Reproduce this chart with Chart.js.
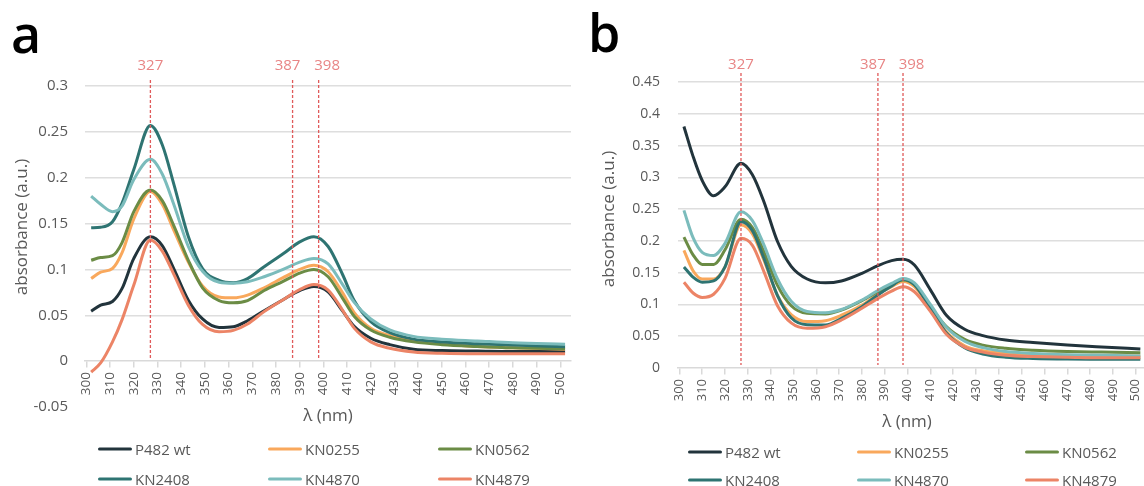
<!DOCTYPE html>
<html>
<head>
<meta charset="utf-8">
<script src="https://cdn.jsdelivr.net/npm/chart.js@4.4.0/dist/chart.umd.min.js"></script>
<style>
body{margin:0;background:#fff;width:1144px;height:486px;overflow:hidden;position:relative;font-family:"Open Sans",sans-serif;color:#595959}
canvas{position:absolute;top:0}
#cA{left:0}
#cB{left:575px}
.t{position:absolute;white-space:nowrap;line-height:1}
.panel{position:absolute;font-size:52px;font-weight:600;color:#000;line-height:52px}
.ytitle{font-size:17px;transform:translate(-50%,-50%) rotate(-90deg)}
.xtitle{font-size:17px;transform:translate(-50%,-50%)}
.leg{position:absolute;font-size:15px;line-height:1;transform:translateY(-50%);white-space:nowrap}
.leg i{position:absolute;height:3.5px;border-radius:2px}
</style>
</head>
<body>
<canvas id="cA" width="575" height="486"></canvas>
<canvas id="cB" width="569" height="486"></canvas>
<div class="panel" style="left:11px;top:7px">a</div>
<div class="panel" style="left:588px;top:6px">b</div>
<div class="t ytitle" style="left:20px;top:227px">absorbance (a.u.)</div>
<div class="t ytitle" style="left:607px;top:219px">absorbance (a.u.)</div>
<div class="t xtitle" style="left:328px;top:414px">λ (nm)</div>
<div class="t xtitle" style="left:907px;top:420px">λ (nm)</div>
<div id="legends"></div>
<script>
// Series names and colours
const names = ['P482 wt', 'KN0255', 'KN0562', 'KN2408', 'KN4870', 'KN4879'];
const colors = ['#22343c', '#f9a85c', '#6b8c45', '#2e7472', '#7bbcbc', '#ec8466'];
const markers = [327, 387, 398];
const xTicks = [300, 310, 320, 330, 340, 350, 360, 370, 380, 390, 400, 410, 420, 430, 440, 450, 460, 470, 480, 490, 500];

// panel a
const wlA = [302, 306, 311, 315, 320, 327, 332, 337, 343, 349, 356, 362, 368, 375, 383, 390, 396, 402, 408, 413, 420, 428, 438, 450, 465, 480, 502];
const aP482 = [0.0545, 0.061, 0.065, 0.079, 0.112, 0.1356, 0.126, 0.100, 0.0665, 0.046, 0.0367, 0.0375, 0.044, 0.055, 0.067, 0.077, 0.0815, 0.0756, 0.055, 0.038, 0.025, 0.018, 0.013, 0.0115, 0.011, 0.0105, 0.0105];
const aKN0255 = [0.090, 0.097, 0.101, 0.118, 0.155, 0.185, 0.171, 0.142, 0.108, 0.082, 0.070, 0.069, 0.072, 0.080, 0.091, 0.100, 0.1045, 0.0975, 0.075, 0.053, 0.036, 0.028, 0.023, 0.019, 0.016, 0.0145, 0.013];
const aKN0562 = [0.110, 0.113, 0.115, 0.129, 0.163, 0.1865, 0.175, 0.147, 0.110, 0.080, 0.066, 0.0636, 0.066, 0.077, 0.087, 0.096, 0.100, 0.092, 0.069, 0.049, 0.034, 0.026, 0.021, 0.018, 0.016, 0.0145, 0.0135];
const aKN2408 = [0.1455, 0.146, 0.152, 0.172, 0.209, 0.257, 0.236, 0.192, 0.136, 0.101, 0.088, 0.0855, 0.090, 0.103, 0.117, 0.130, 0.1356, 0.125, 0.095, 0.066, 0.043, 0.031, 0.024, 0.021, 0.019, 0.0175, 0.0158];
const aKN4870 = [0.180, 0.171, 0.163, 0.169, 0.198, 0.220, 0.204, 0.170, 0.125, 0.098, 0.086, 0.085, 0.0865, 0.092, 0.100, 0.108, 0.112, 0.106, 0.084, 0.064, 0.046, 0.034, 0.027, 0.024, 0.022, 0.020, 0.0185];
const aKN4879 = [-0.012, -0.002, 0.021, 0.045, 0.083, 0.132, 0.120, 0.094, 0.061, 0.040, 0.032, 0.0335, 0.0405, 0.054, 0.067, 0.078, 0.0835, 0.0775, 0.056, 0.036, 0.021, 0.014, 0.010, 0.0085, 0.008, 0.008, 0.008];

// panel b
const wlB = [302, 306, 310, 315, 320, 327, 332, 337, 343, 349, 356, 364, 371, 380, 387, 393, 398, 403, 410, 417, 425, 433, 443, 455, 470, 485, 502];
const bP482 = [0.380, 0.333, 0.295, 0.271, 0.285, 0.322, 0.304, 0.262, 0.199, 0.160, 0.140, 0.134, 0.137, 0.149, 0.161, 0.169, 0.171, 0.162, 0.123, 0.083, 0.061, 0.051, 0.044, 0.040, 0.036, 0.033, 0.030];
const bKN0255 = [0.185, 0.153, 0.140, 0.140, 0.159, 0.225, 0.211, 0.170, 0.114, 0.084, 0.073, 0.0745, 0.083, 0.099, 0.116, 0.128, 0.136, 0.128, 0.094, 0.057, 0.035, 0.027, 0.023, 0.021, 0.020, 0.019, 0.019];
const bKN0562 = [0.206, 0.178, 0.163, 0.163, 0.186, 0.234, 0.221, 0.183, 0.130, 0.098, 0.086, 0.085, 0.091, 0.106, 0.120, 0.131, 0.1385, 0.131, 0.097, 0.065, 0.045, 0.036, 0.031, 0.028, 0.026, 0.025, 0.024];
const bKN2408 = [0.159, 0.143, 0.135, 0.137, 0.159, 0.230, 0.216, 0.173, 0.114, 0.079, 0.068, 0.0677, 0.078, 0.0965, 0.115, 0.129, 0.1395, 0.131, 0.094, 0.055, 0.032, 0.022, 0.017, 0.015, 0.014, 0.0138, 0.0136];
const bKN4870 = [0.248, 0.205, 0.182, 0.177, 0.196, 0.246, 0.232, 0.194, 0.140, 0.105, 0.089, 0.087, 0.092, 0.107, 0.122, 0.133, 0.141, 0.134, 0.100, 0.064, 0.042, 0.032, 0.026, 0.023, 0.021, 0.020, 0.019];
const bKN4879 = [0.135, 0.118, 0.111, 0.116, 0.141, 0.204, 0.193, 0.152, 0.098, 0.071, 0.0625, 0.065, 0.0755, 0.094, 0.1095, 0.121, 0.128, 0.120, 0.089, 0.053, 0.033, 0.025, 0.020, 0.018, 0.017, 0.016, 0.016];

const seriesA = [aP482, aKN0255, aKN0562, aKN2408, aKN4870, aKN4879];
const seriesB = [bP482, bKN0255, bKN0562, bKN2408, bKN4870, bKN4879];

// dashed marker lines with labels above the plot
const markerPlugin = {
  id: 'markers',
  afterDatasetsDraw(chart, args, opts) {
    const {ctx, chartArea} = chart;
    const x = chart.scales.x, y = chart.scales.y;
    ctx.save();
    markers.forEach((m, i) => {
      const px = x.getPixelForValue(m);
      ctx.strokeStyle = '#e05a5a';
      ctx.lineWidth = 1.3;
      ctx.setLineDash([3, 2]);
      ctx.beginPath();
      ctx.moveTo(px, chartArea.top - opts.above);
      ctx.lineTo(px, y.getPixelForValue(0) - 3);
      ctx.stroke();
      ctx.fillStyle = '#e88585';
      ctx.font = '15px "Open Sans"';
      ctx.textAlign = 'center';
      ctx.textBaseline = 'middle';
      ctx.fillText(String(m), px + opts.shift[i], opts.labelY);
    });
    ctx.restore();
  }
};

function fmt(v) { return String(Math.round(v * 100) / 100); }

function makeChart(id, wl, series, o) {
  const datasets = series.map((vals, i) => ({
    label: names[i],
    data: vals.map((v, j) => ({x: wl[j], y: v})),
    borderColor: colors[i],
    borderWidth: 3,
    pointRadius: 0,
    cubicInterpolationMode: 'monotone',
    order: 6 - i
  }));
  return new Chart(document.getElementById(id), {
    type: 'line',
    data: {datasets},
    plugins: [markerPlugin],
    options: {
      responsive: false,
      animation: false,
      layout: {padding: o.padding},
      plugins: {
        legend: {display: false},
        tooltip: {enabled: false},
        markers: {above: o.above, labelY: o.labelY, shift: [0, -5, 8.5]}
      },
      scales: {
        x: {
          type: 'linear',
          position: {y: 0},
          min: o.xmin, max: o.xmax,
          afterBuildTicks: s => { s.ticks = xTicks.map(v => ({value: v})); },
          afterFit: s => { s.paddingLeft = 0; s.paddingRight = 0; },
          ticks: {minRotation: 90, maxRotation: 90, autoSkip: false, padding: 5, color: '#595959', font: {family: 'Open Sans', size: o.xfont}},
          grid: {drawOnChartArea: false, drawTicks: true, tickLength: 6, color: '#d9d9d9', lineWidth: 1.5},
          border: {display: true, color: '#d9d9d9', width: 1.5}
        },
        y: {
          min: o.ymin, max: o.ymax,
          afterFit: s => { s.width = o.yw; },
          ticks: {stepSize: 0.05, padding: o.ypad, color: '#595959', font: {family: 'Open Sans', size: o.yfont}, callback: v => fmt(v)},
          grid: {drawTicks: false, lineWidth: 1.5, color: c => c.tick.value > 0.0001 ? '#dedede' : 'rgba(0,0,0,0)'},
          border: {display: false}
        }
      }
    }
  });
}

makeChart('cA', wlA, seriesA, {
  padding: {top: 86, bottom: 79, left: 0, right: 4},
  xmin: 299.4, xmax: 504.5, ymin: -0.05, ymax: 0.3,
  yw: 85, ypad: 17, yfont: 15, xfont: 13.5, above: 6, labelY: 66
});
makeChart('cB', wlB, seriesB, {
  padding: {top: 82, bottom: 118, left: 0, right: 0},
  xmin: 299.4, xmax: 503.6, ymin: 0, ymax: 0.45,
  yw: 103, ypad: 18, yfont: 14, xfont: 13, above: 9, labelY: 65
});

// legends, three columns by two rows
function buildLegend(xs, ys) {
  const box = document.getElementById('legends');
  names.forEach((n, i) => {
    const d = document.createElement('div');
    d.className = 'leg';
    d.style.left = (xs[i % 3] + 37) + 'px';
    d.style.top = ys[Math.floor(i / 3)] + 'px';
    d.textContent = n;
    const line = document.createElement('i');
    line.style.left = '-37px';
    line.style.width = '34px';
    line.style.top = 'calc(50% - 1.75px)';
    line.style.background = colors[i];
    d.appendChild(line);
    box.appendChild(d);
  });
}
buildLegend([98, 268, 438], [449, 479]);
buildLegend([688, 857, 1025], [452, 480]);
</script>
</body>
</html>
